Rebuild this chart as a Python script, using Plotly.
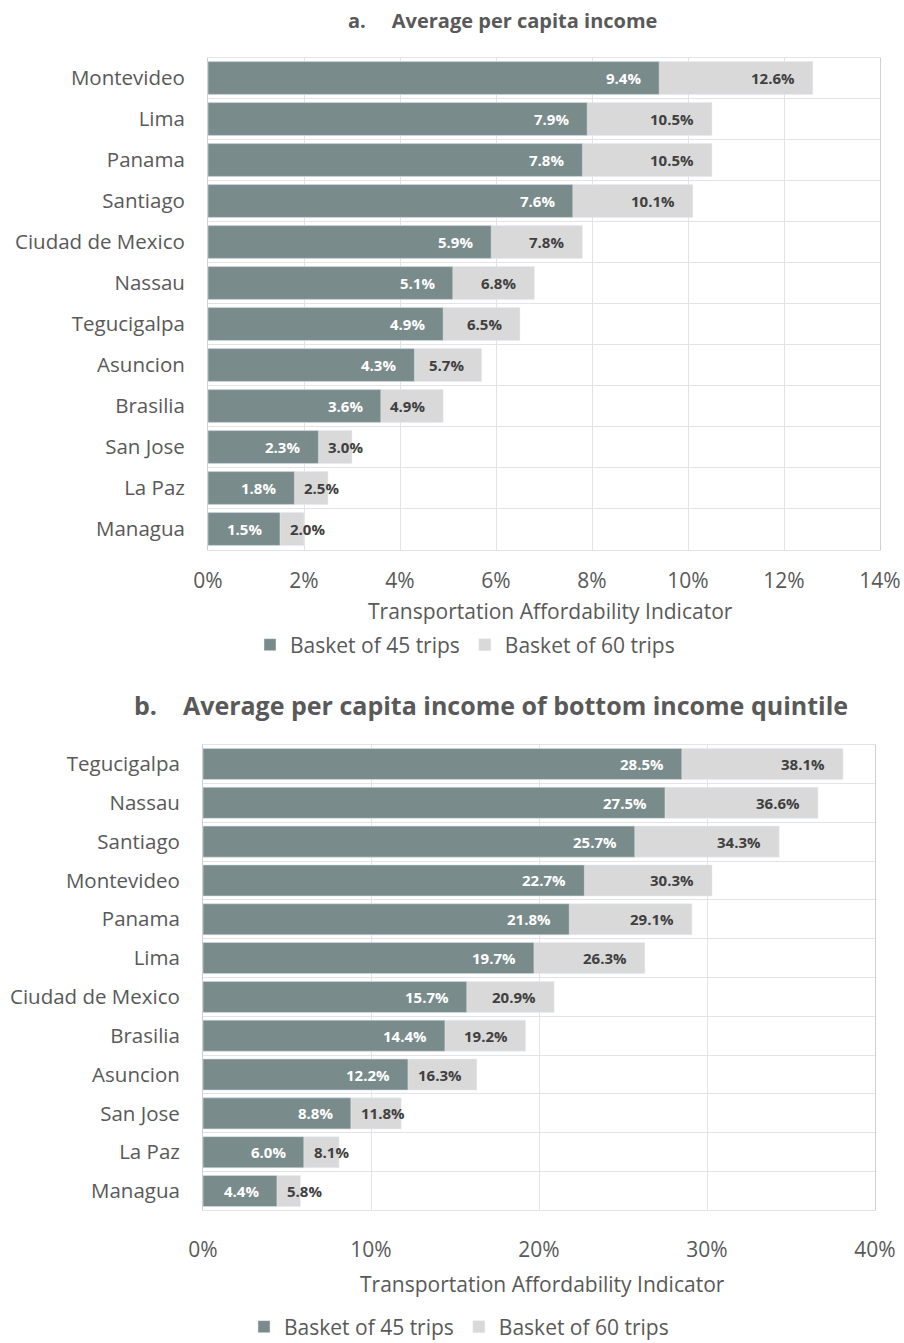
import plotly.graph_objects as go

# ---------------- data ----------------
cities_a = ["Montevideo", "Lima", "Panama", "Santiago", "Ciudad de Mexico", "Nassau",
            "Tegucigalpa", "Asuncion", "Brasilia", "San Jose", "La Paz", "Managua"]
trips45_a = [9.4, 7.9, 7.8, 7.6, 5.9, 5.1, 4.9, 4.3, 3.6, 2.3, 1.8, 1.5]
trips60_a = [12.6, 10.5, 10.5, 10.1, 7.8, 6.8, 6.5, 5.7, 4.9, 3.0, 2.5, 2.0]

cities_b = ["Tegucigalpa", "Nassau", "Santiago", "Montevideo", "Panama", "Lima",
            "Ciudad de Mexico", "Brasilia", "Asuncion", "San Jose", "La Paz", "Managua"]
trips45_b = [28.5, 27.5, 25.7, 22.7, 21.8, 19.7, 15.7, 14.4, 12.2, 8.8, 6.0, 4.4]
trips60_b = [38.1, 36.6, 34.3, 30.3, 29.1, 26.3, 20.9, 19.2, 16.3, 11.8, 8.1, 5.8]

x_ticks_a = [0, 2, 4, 6, 8, 10, 12, 14]
x_ticks_b = [0, 10, 20, 30, 40]

title_a = "a.\u00a0\u00a0\u00a0\u00a0\u00a0Average per capita income"
title_b = "b.\u00a0\u00a0\u00a0\u00a0Average per capita income of bottom income quintile"
axis_title = "Transportation Affordability Indicator"
name45 = "Basket of 45 trips"
name60 = "Basket of 60 trips"

# ---------------- style ----------------
FONT = "Open Sans"
DARK = "#7A8B8C"
LIGHT = "#D9D9D9"
TXT = "#595959"
LBL = "#404040"
GRID = "#E3E3E3"
W, H = 904, 1343

def px(x):
    return x / W

def py(y):
    return 1 - y / H

dom_xa = [px(208), px(880)]
dom_ya = [py(549.5), py(57.5)]
dom_xb = [px(203), px(875)]
dom_yb = [py(1210.4), py(744.6)]

fig = go.Figure()

def add_panel(cities, v45, v60, xa, ya, legend):
    fig.add_trace(go.Bar(y=cities, x=v60, orientation="h", name=name60, marker_color=LIGHT,
                         width=0.8, xaxis=xa, yaxis=ya, legend=legend, legendrank=2,
                         hoverinfo="skip"))
    fig.add_trace(go.Bar(y=cities, x=v45, orientation="h", name=name45, marker_color=DARK,
                         width=0.8, xaxis=xa, yaxis=ya, legend=legend, legendrank=1,
                         hoverinfo="skip"))

add_panel(cities_a, trips45_a, trips60_a, "x", "y", "legend")
add_panel(cities_b, trips45_b, trips60_b, "x2", "y2", "legend2")

annotations = []
LSIZE = 15

def add_labels(cities, v45, v60, xref, yref, xmax, dom):
    ppu = (dom[1] - dom[0]) * W / xmax
    for c, a, b in zip(cities, v45, v60):
        la = f"{a:.1f}%"
        lb = f"{b:.1f}%"
        annotations.append(dict(x=a, y=c, xref=xref, yref=yref, text=f"<b>{la}</b>",
                                showarrow=False, xanchor="right", xshift=-16,
                                font=dict(family=FONT, size=LSIZE, color="white")))
        tw = len(lb) * 9
        seg = (b - a) * ppu
        if seg >= tw + 25:
            annotations.append(dict(x=b, y=c, xref=xref, yref=yref, text=f"<b>{lb}</b>",
                                    showarrow=False, xanchor="right", xshift=-16,
                                    font=dict(family=FONT, size=LSIZE, color=LBL)))
        else:
            annotations.append(dict(x=a, y=c, xref=xref, yref=yref, text=f"<b>{lb}</b>",
                                    showarrow=False, xanchor="left", xshift=8,
                                    font=dict(family=FONT, size=LSIZE, color=LBL)))

add_labels(cities_a, trips45_a, trips60_a, "x", "y", 14, dom_xa)
add_labels(cities_b, trips45_b, trips60_b, "x2", "y2", 40, dom_xb)

# titles
annotations.append(dict(x=px(502), y=py(20), xref="paper", yref="paper", text=f"<b>{title_a}</b>",
                        showarrow=False, xanchor="center", yanchor="middle",
                        font=dict(family=FONT, size=20, color=TXT)))
annotations.append(dict(x=px(491), y=py(705), xref="paper", yref="paper", text=f"<b>{title_b}</b>",
                        showarrow=False, xanchor="center", yanchor="middle",
                        font=dict(family=FONT, size=25, color=TXT)))
# axis titles
annotations.append(dict(x=px(550), y=py(611), xref="paper", yref="paper", text=axis_title,
                        showarrow=False, xanchor="center", yanchor="middle",
                        font=dict(family=FONT, size=21, color=TXT)))
annotations.append(dict(x=px(542), y=py(1284), xref="paper", yref="paper", text=axis_title,
                        showarrow=False, xanchor="center", yanchor="middle",
                        font=dict(family=FONT, size=21, color=TXT)))

def xaxis(dom, ticks, rng, standoff, anchor):
    return dict(domain=dom, range=rng, tickvals=ticks, ticktext=[f"{t}%" for t in ticks],
                showgrid=True, gridcolor=GRID, gridwidth=1, zeroline=False,
                showline=True, linecolor=GRID, mirror=True, ticks="",
                ticklabelstandoff=standoff, tickfont=dict(family=FONT, size=21, color=TXT),
                anchor=anchor, fixedrange=True, automargin=False)

def yaxis(dom, anchor):
    return dict(domain=dom, autorange="reversed", type="category", tickson="boundaries",
                showgrid=True, gridcolor=GRID, gridwidth=1, showline=True, linecolor="#D0D0D0",
                mirror=True, ticks="", ticklabelstandoff=18,
                tickfont=dict(family=FONT, size=20.5, color=TXT), anchor=anchor,
                fixedrange=True, automargin=False)

fig.update_layout(
    width=W, height=H,
    margin=dict(l=0, r=0, t=0, b=0, autoexpand=False),
    paper_bgcolor="white", plot_bgcolor="white",
    barmode="overlay", bargap=0.2,
    font=dict(family=FONT, color=TXT),
    xaxis=xaxis(dom_xa, x_ticks_a, [0, 14], 12, "y"),
    yaxis=yaxis(dom_ya, "x"),
    xaxis2=xaxis(dom_xb, x_ticks_b, [0, 40], 20, "y2"),
    yaxis2=yaxis(dom_yb, "x2"),
    legend=dict(orientation="h", x=px(465), y=py(645), xanchor="center", yanchor="middle",
                font=dict(family=FONT, size=21, color=TXT), itemwidth=30, bgcolor="rgba(0,0,0,0)"),
    legend2=dict(orientation="h", x=px(459), y=py(1327), xanchor="center", yanchor="middle",
                 font=dict(family=FONT, size=21, color=TXT), itemwidth=30, bgcolor="rgba(0,0,0,0)"),
    annotations=annotations,
    showlegend=True,
)

fig.write_html("out.html", config={"displayModeBar": False},
               post_script="document.body.style.margin='0';document.body.style.overflow='hidden';")
